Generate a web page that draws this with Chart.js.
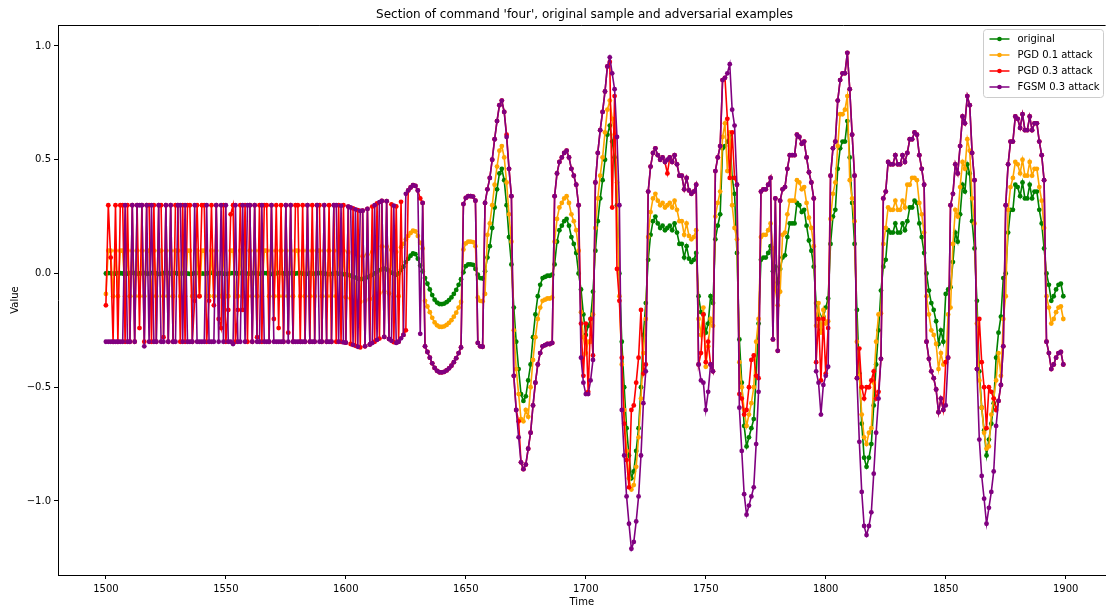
<!DOCTYPE html>
<html>
<head>
<meta charset="utf-8">
<script src="https://cdn.jsdelivr.net/npm/chart.js@4.4.1/dist/chart.umd.min.js"></script>
<style>
  html, body { margin: 0; padding: 0; background: #fff; }
  #wrap { width: 1108px; height: 608px; }
</style>
</head>
<body>
<div id="wrap"><canvas id="chart" width="1108" height="608"></canvas></div>
<script>
// samples start at t = 1500, one value per step
const startTime = 1500;

const original = [
  0, 0.002, 0.001, -0.001, 0, 0.002, 0.001, 0, -0.002, 0,
  0.001, 0.003, 0.001, -0.001, 0, 0.001, 0.002, 0, -0.001, 0.001,
  0.002, 0, -0.002, -0.001, 0.001, 0.002, 0.001, 0, 0.001, 0.002,
  0, -0.001, 0.001, 0.002, 0, -0.002, -0.001, 0.001, 0.002, 0.001,
  0, -0.001, 0, 0.002, 0.003, 0.001, -0.001, 0, 0.001, 0,
  -0.002, -0.001, 0.001, 0.002, 0.001, 0, 0.002, 0.003, 0.001, -0.001,
  0, 0.001, 0.002, 0, -0.001, 0.001, 0.002, 0.001, 0, -0.002,
  -0.001, 0.001, 0.003, 0.002, 0, -0.001, 0, 0.002, 0.001, 0,
  0.001, 0.002, 0, -0.002, -0.001, 0.001, 0, -0.001, 0.001, 0.002,
  0.001, 0, -0.002, -0.003, -0.002, 0, 0.001, -0.001, -0.002, -0.003,
  -0.004, -0.006, -0.01, -0.014, -0.018, -0.022, -0.025, -0.024, -0.02, -0.016,
  -0.012, -0.006, 0, 0.008, 0.014, 0.019, 0.021, 0.018, 0.012, 0.004,
  -0.002, -0.005, 0, 0.015, 0.03, 0.05, 0.065, 0.078, 0.088, 0.085,
  0.065, 0.035, 0.01, -0.02, -0.045, -0.07, -0.095, -0.115, -0.128, -0.134,
  -0.135, -0.132, -0.126, -0.117, -0.105, -0.09, -0.072, -0.05, -0.025, 0.005,
  0.032, 0.04, 0.04, 0.038, 0.02, -0.005, -0.02, -0.022, 0.01, 0.07,
  0.12, 0.2, 0.29, 0.37, 0.44, 0.46, 0.41, 0.3, 0.16, 0.04,
  -0.15, -0.3, -0.42, -0.53, -0.56, -0.54, -0.47, -0.4, -0.28, -0.18,
  -0.1, -0.05, -0.02, -0.015, -0.01, -0.01, -0.005, 0.04, 0.14, 0.19,
  0.21, 0.23, 0.24, 0.21, 0.16, 0.13, 0.09, 0, -0.07, -0.18,
  -0.27, -0.23, -0.2, -0.08, 0.1, 0.23, 0.33, 0.41, 0.5, 0.61,
  0.65, 0.58, 0.51, 0.3, 0, -0.3, -0.5, -0.68, -0.8, -0.9,
  -0.87, -0.78, -0.68, -0.5, -0.27, -0.13, 0.06, 0.17, 0.23, 0.25,
  0.22, 0.2, 0.21, 0.19, 0.2, 0.21, 0.19, 0.22, 0.18, 0.13,
  0.13, 0.07, 0.12, 0.065, 0.05, 0.06, 0.09, -0.1, -0.17, -0.18,
  -0.26, -0.22, -0.1, -0.13, 0.15, 0.21, 0.26, 0.55, 0.56, 0.58,
  0.61, 0.42, 0.35, 0.09, -0.29, -0.48, -0.67, -0.76, -0.72, -0.68,
  -0.64, -0.45, -0.22, 0.06, 0.07, 0.07, 0.09, 0.12, 0.01, 0.03,
  -0.04, 0.02, 0.07, 0.08, 0.16, 0.22, 0.22, 0.22, 0.31, 0.3,
  0.27, 0.28, 0.21, 0.145, 0.1, 0.03, -0.13, -0.18, -0.25, -0.19,
  -0.15, -0.11, 0.13, 0.25, 0.28, 0.46, 0.55, 0.58, 0.58, 0.67,
  0.51, 0.31, 0.13, -0.16, -0.44, -0.66, -0.81, -0.85, -0.81, -0.75,
  -0.58, -0.4, -0.25, -0.075, 0.03, 0.06, 0.19, 0.18, 0.18, 0.22,
  0.18, 0.18, 0.22, 0.19, 0.23, 0.29, 0.29, 0.32, 0.31, 0.22,
  0.16, 0.09, 0, -0.075, -0.13, -0.16, -0.21, -0.31, -0.25, -0.3,
  -0.09, -0.07, -0.06, 0.05, 0.18, 0.14, 0.26, 0.39, 0.36, 0.48,
  0.44, 0.23, 0.11, -0.12, -0.43, -0.59, -0.69, -0.8, -0.73, -0.66,
  -0.57, -0.37, -0.26, -0.19, -0.02, 0, 0.18, 0.28, 0.28, 0.39,
  0.38, 0.34, 0.4, 0.33, 0.33, 0.39, 0.33, 0.36, 0.36, 0.28,
  0.22, 0.11, 0, -0.05, -0.12, -0.1, -0.07, -0.05, -0.045, -0.1
];

const pgd01 = [
  -0.09, 0.1, 0.1, -0.1, 0.1, -0.1, 0.1, 0.1, -0.1, 0.1,
  -0.1, 0.1, -0.1, 0.1, -0.1, 0.1, -0.1, 0.1, 0.1, -0.1,
  0.1, -0.1, 0.1, 0.1, -0.1, 0.1, -0.1, 0.1, -0.1, 0.1,
  0.1, -0.1, 0.1, -0.1, 0.1, 0.1, -0.1, -0.1, 0.1, -0.1,
  0.1, 0.1, -0.1, -0.1, 0.1, -0.1, 0.1, -0.1, -0.1, 0.1,
  -0.1, -0.1, 0.1, 0.1, -0.1, -0.1, 0.1, -0.1, 0.1, -0.1,
  0.1, -0.1, 0.1, -0.1, 0.1, -0.1, 0.1, 0.1, -0.1, 0.1,
  -0.1, 0.1, -0.1, 0.1, -0.1, 0.1, -0.1, 0.1, -0.1, 0.1,
  0.1, -0.1, 0.1, -0.1, 0.1, -0.1, 0.1, -0.1, 0.1, 0.1,
  -0.1, 0.1, -0.1, 0.1, -0.1, 0.1, -0.1, 0.1, -0.1, 0.1,
  -0.104, 0.094, -0.11, 0.086, -0.118, 0.078, -0.125, 0.076, -0.12, 0.084,
  -0.112, 0.094, -0.1, 0.108, -0.086, 0.119, -0.079, 0.118, -0.088, 0.104,
  -0.102, 0.095, -0.1, 0.115, 0.13, 0.15, 0.165, 0.178, 0.188, 0.185,
  0.165, 0.135, 0.11, -0.12, -0.145, -0.17, -0.195, -0.215, -0.228, -0.234,
  -0.235, -0.232, -0.226, -0.217, -0.205, -0.19, -0.172, -0.15, -0.125, 0.105,
  0.132, 0.14, 0.14, 0.138, 0.12, -0.105, -0.12, -0.122, -0.09, 0.17,
  0.22, 0.3, 0.39, 0.47, 0.54, 0.56, 0.51, 0.4, 0.26, 0.14,
  -0.25, -0.42, -0.53, -0.64, -0.65, -0.6, -0.63, -0.5, -0.38, -0.28,
  -0.2, -0.15, -0.12, -0.115, -0.11, -0.11, -0.105, 0.14, 0.24, 0.29,
  0.31, 0.33, 0.34, 0.31, 0.26, 0.23, 0.19, 0.1, -0.17, -0.28,
  -0.35, -0.3, -0.3, -0.18, 0.2, 0.33, 0.43, 0.51, 0.62, 0.72,
  0.76, 0.68, 0.61, 0.4, -0.1, -0.4, -0.6, -0.78, -0.9, -0.95,
  -0.93, -0.85, -0.72, -0.55, -0.35, -0.2, 0.16, 0.27, 0.33, 0.35,
  0.32, 0.3, 0.31, 0.29, 0.3, 0.31, 0.29, 0.32, 0.28, 0.23,
  0.23, 0.17, 0.22, 0.165, 0.15, 0.16, 0.19, -0.2, -0.27, -0.15,
  -0.41, -0.32, -0.2, -0.23, 0.25, 0.31, 0.36, 0.6, 0.66, 0.45,
  0.62, 0.3, 0.2, 0.15, -0.39, -0.5, -0.6, -0.67, -0.62, -0.57,
  -0.5, -0.3, -0.2, 0.16, 0.17, 0.17, 0.19, 0.22, 0.11, -0.07,
  -0.14, -0.08, 0.17, 0.18, 0.26, 0.32, 0.32, 0.32, 0.41, 0.4,
  0.37, 0.38, 0.31, 0.245, 0.2, 0.12, -0.23, -0.13, -0.26, -0.16,
  -0.22, -0.21, 0.24, 0.35, 0.4, 0.56, 0.7, 0.7, 0.72, 0.78,
  0.41, 0.33, 0.23, -0.3, -0.45, -0.62, -0.72, -0.75, -0.7, -0.68,
  -0.48, -0.3, -0.18, -0.175, 0.13, 0.2, 0.29, 0.28, 0.28, 0.32,
  0.28, 0.28, 0.32, 0.29, 0.39, 0.39, 0.42, 0.42, 0.41, 0.31,
  0.26, 0.18, -0.1, -0.18, -0.25, -0.27, -0.31, -0.42, -0.35, -0.4,
  -0.39, -0.18, -0.15, 0.13, 0.28, 0.25, 0.38, 0.49, 0.46, 0.59,
  0.54, 0.33, 0.22, -0.22, -0.47, -0.59, -0.7, -0.77, -0.76, -0.62,
  -0.55, -0.47, -0.35, -0.45, -0.2, -0.1, 0.28, 0.38, 0.42, 0.49,
  0.48, 0.44, 0.5, 0.43, 0.43, 0.49, 0.43, 0.46, 0.46, 0.38,
  0.32, 0.2, -0.1, -0.15, -0.22, -0.2, -0.17, -0.15, -0.145, -0.2
];

const pgd03 = [
  -0.14, 0.3, 0.07, -0.3, 0.3, -0.3, 0.3, 0.3, -0.3, 0.3,
  -0.3, 0.3, -0.3, 0.3, -0.24, 0.3, -0.3, 0.3, 0.3, -0.3,
  0.3, -0.3, 0.3, 0.3, -0.28, 0.3, -0.3, 0.3, -0.3, 0.3,
  0.3, -0.3, 0.3, -0.3, 0.3, 0.3, -0.3, -0.12, 0.3, -0.1,
  0.3, 0.3, -0.3, -0.12, 0.3, -0.14, 0.3, -0.2, -0.24, 0.3,
  -0.3, -0.16, 0.26, 0.3, -0.3, -0.16, 0.3, -0.16, 0.3, -0.3,
  0.3, -0.3, 0.3, -0.28, 0.3, -0.3, 0.3, 0.3, -0.3, 0.3,
  -0.2, 0.3, -0.24, 0.3, -0.3, 0.3, -0.26, 0.3, -0.3, 0.3,
  0.3, -0.3, 0.3, -0.3, 0.3, -0.3, 0.3, -0.3, 0.3, 0.3,
  -0.3, 0.3, -0.3, 0.3, -0.3, 0.3, -0.3, 0.3, -0.3, 0.3,
  -0.304, 0.294, -0.31, 0.286, -0.318, 0.278, -0.325, 0.276, -0.32, 0.284,
  -0.312, 0.294, -0.3, 0.308, -0.286, 0.319, -0.279, 0.318, -0.288, 0.304,
  -0.302, 0.295, -0.3, 0.315, -0.27, -0.25, 0.365, 0.378, 0.388, 0.385,
  0.365, 0.33, 0.31, -0.32, -0.345, -0.37, -0.395, -0.415, -0.428, -0.434,
  -0.435, -0.432, -0.426, -0.417, -0.405, -0.39, -0.372, -0.35, -0.325, 0.305,
  0.332, 0.34, 0.34, 0.338, 0.32, -0.305, -0.32, -0.322, 0.31, 0.37,
  0.42, 0.5, 0.59, 0.67, 0.74, 0.76, 0.71, 0.61, 0.46, 0.34,
  -0.45, -0.6, -0.65, -0.83, -0.86, -0.84, -0.77, -0.7, -0.58, -0.48,
  -0.4, -0.35, -0.32, -0.315, -0.31, -0.31, -0.305, 0.34, 0.44, 0.49,
  0.51, 0.53, 0.54, 0.51, 0.46, 0.43, 0.39, 0.3, -0.22, -0.45,
  -0.22, -0.52, -0.2, -0.36, 0.4, 0.53, 0.63, 0.71, 0.8, 0.91,
  0.93, 0.29, 0.78, 0.02, -0.12, -0.37, -0.66, -0.82, -0.94, -0.6,
  -0.58, -0.48, -0.37, -0.16, -0.44, -0.4, 0.36, 0.47, 0.53, 0.55,
  0.52, 0.5, 0.51, 0.49, 0.44, 0.51, 0.49, 0.52, 0.48, 0.43,
  0.43, 0.37, 0.42, 0.365, 0.35, 0.36, 0.39, -0.4, -0.35, -0.18,
  -0.39, -0.3, -0.4, -0.43, 0.45, 0.51, 0.56, 0.85, 0.86, 0.68,
  0.42, 0.62, 0.42, 0.39, -0.53, -0.55, -0.62, -0.6, -0.5, -0.38,
  -0.36, -0.45, -0.46, 0.36, 0.37, 0.37, 0.39, 0.42, -0.29, 0.33,
  -0.34, 0.32, 0.37, 0.38, 0.46, 0.52, 0.52, 0.52, 0.61, 0.6,
  0.57, 0.58, 0.51, 0.445, 0.4, 0.33, -0.39, -0.2, -0.47, -0.2,
  -0.44, -0.24, 0.43, 0.55, 0.58, 0.76, 0.85, 0.88, 0.88, 0.97,
  0.81, 0.61, 0.43, -0.46, -0.33, -0.5, -0.55, -0.5, -0.5, -0.47,
  -0.43, -0.55, -0.52, -0.375, 0.33, 0.36, 0.49, 0.48, 0.48, 0.52,
  0.48, 0.48, 0.52, 0.49, 0.53, 0.59, 0.59, 0.62, 0.61, 0.52,
  0.46, 0.39, -0.3, -0.375, -0.43, -0.46, -0.51, -0.61, -0.55, -0.6,
  -0.39, -0.37, 0.3, 0.35, 0.48, 0.44, 0.56, 0.69, 0.66, 0.78,
  0.74, 0.53, 0.41, -0.42, -0.2, -0.39, -0.5, -0.68, -0.5, -0.52,
  -0.55, -0.6, -0.56, -0.49, -0.32, 0.3, 0.48, 0.58, 0.58, 0.69,
  0.68, 0.64, 0.7, 0.63, 0.63, 0.69, 0.63, 0.66, 0.66, 0.58,
  0.52, 0.41, -0.3, -0.35, -0.42, -0.4, -0.37, -0.35, -0.345, -0.4
];

const fgsm03 = [
  -0.3, -0.3, -0.3, -0.3, -0.3, -0.3, -0.3, -0.3, 0.3, -0.3,
  -0.3, 0.3, -0.3, 0.3, 0.3, 0.3, -0.32, 0.3, -0.3, 0.3,
  -0.3, -0.3, 0.3, -0.3, -0.3, 0.3, -0.3, 0.3, -0.3, -0.3,
  0.3, 0.3, -0.3, 0.3, -0.3, -0.3, -0.3, 0.3, -0.3, -0.3,
  -0.3, -0.3, 0.3, -0.3, -0.3, -0.3, 0.3, -0.3, 0.3, -0.3,
  0.3, -0.3, -0.3, -0.31, 0.3, -0.3, -0.3, 0.3, -0.3, 0.3,
  0.3, -0.3, 0.3, -0.3, -0.3, 0.3, -0.3, -0.3, -0.3, 0.3,
  -0.3, -0.3, -0.3, -0.3, -0.3, 0.3, -0.3, 0.3, -0.3, -0.3,
  -0.3, -0.3, -0.3, -0.3, 0.3, -0.3, -0.3, -0.3, 0.3, -0.3,
  -0.3, 0.3, -0.3, -0.3, -0.3, 0.3, 0.3, -0.3, 0.298, -0.303,
  -0.304, 0.294, 0.29, -0.314, 0.282, -0.322, 0.275, 0.276, -0.32, 0.284,
  -0.312, -0.306, 0.3, -0.292, 0.314, 0.319, -0.279, 0.318, -0.288, -0.296,
  0.298, -0.305, -0.3, -0.285, -0.27, 0.35, 0.365, 0.378, 0.388, 0.385,
  0.365, -0.265, 0.31, -0.32, -0.345, -0.37, -0.395, -0.415, -0.428, -0.434,
  -0.435, -0.432, -0.426, -0.417, -0.405, -0.39, -0.372, -0.35, -0.325, 0.305,
  0.332, 0.34, 0.34, 0.338, 0.32, -0.305, -0.32, -0.322, 0.31, 0.37,
  0.42, 0.5, 0.59, 0.67, 0.74, 0.76, 0.71, 0.6, 0.46, 0.34,
  -0.45, -0.6, -0.72, -0.83, -0.86, -0.84, -0.77, -0.7, -0.58, -0.48,
  -0.4, -0.35, -0.32, -0.315, -0.31, -0.31, -0.305, 0.34, 0.44, 0.49,
  0.51, 0.53, 0.54, 0.51, 0.46, 0.43, 0.39, 0.3, -0.37, -0.48,
  -0.53, -0.53, -0.47, -0.38, 0.4, 0.53, 0.63, 0.71, 0.8, 0.91,
  0.95, 0.88, 0.81, 0.6, 0.3, -0.6, -0.8, -0.98, -1.1, -1.21,
  -1.18, -1.09, -0.98, -0.8, -0.57, -0.43, 0.36, 0.47, 0.53, 0.55,
  0.52, 0.5, 0.51, 0.49, 0.5, 0.51, 0.49, 0.52, 0.48, 0.43,
  0.43, 0.37, 0.42, 0.365, 0.35, 0.36, 0.39, -0.4, -0.47, -0.48,
  -0.6, -0.52, -0.4, -0.43, 0.45, 0.51, 0.56, 0.85, 0.86, 0.88,
  0.92, 0.72, 0.65, 0.39, -0.59, -0.78, -0.97, -1.06, -1.02, -0.98,
  -0.94, -0.75, -0.52, 0.36, 0.37, 0.37, 0.39, 0.42, -0.29, 0.33,
  -0.34, 0.32, 0.37, 0.38, 0.46, 0.52, 0.52, 0.52, 0.61, 0.6,
  0.57, 0.58, 0.51, 0.445, 0.4, 0.33, -0.43, -0.48, -0.62, -0.49,
  -0.45, -0.41, 0.43, 0.55, 0.58, 0.76, 0.85, 0.88, 0.88, 0.97,
  0.81, 0.61, 0.43, -0.46, -0.74, -0.96, -1.11, -1.15, -1.11, -1.05,
  -0.88, -0.7, -0.55, -0.375, 0.33, 0.36, 0.49, 0.48, 0.48, 0.52,
  0.48, 0.48, 0.52, 0.49, 0.53, 0.59, 0.59, 0.62, 0.61, 0.52,
  0.46, 0.39, -0.3, -0.375, -0.43, -0.46, -0.51, -0.61, -0.55, -0.6,
  -0.58, -0.37, 0.3, 0.35, 0.48, 0.44, 0.56, 0.69, 0.66, 0.78,
  0.74, 0.53, 0.41, -0.42, -0.73, -0.89, -0.99, -1.1, -1.03, -0.96,
  -0.87, -0.67, -0.56, -0.49, -0.32, 0.3, 0.48, 0.58, 0.58, 0.69,
  0.68, 0.64, 0.7, 0.63, 0.63, 0.69, 0.63, 0.66, 0.66, 0.58,
  0.52, 0.41, -0.3, -0.35, -0.42, -0.4, -0.37, -0.35, -0.345, -0.4
];

const seriesNames = ['original', 'PGD 0.1 attack', 'PGD 0.3 attack', 'FGSM 0.3 attack'];
const seriesColors = ['green', 'orange', 'red', 'purple'];
const seriesValues = [original, pgd01, pgd03, fgsm03];

const xTicks = [1500, 1550, 1600, 1650, 1700, 1750, 1800, 1850, 1900];
const yTicks = [-1.0, -0.5, 0.0, 0.5, 1.0];

const chartTitle = "Section of command 'four', original sample and adversarial examples";

// axes limits (x axis runs on past the right edge of the canvas)
const X_MIN = 1480.04, X_VISIBLE_MAX = 1916.63, X_AXIS_END = 1918.95;
const Y_MIN = -1.3253, Y_MAX = 1.0923;

const FONT = "'DejaVu Sans', sans-serif";
Chart.defaults.font.family = FONT;
Chart.defaults.color = '#000';

const fmtMinus = v => (v < 0 ? '\u2212' : '') + Math.abs(v).toFixed(1);

const framePlugin = {
  id: 'frame',
  afterDraw(chart) {
    const { ctx, chartArea: a, scales } = chart;
    ctx.save();
    // top spine
    ctx.strokeStyle = '#000';
    ctx.lineWidth = 1;
    ctx.beginPath();
    ctx.moveTo(a.left, a.top + 0.5);
    ctx.lineTo(a.right, a.top + 0.5);
    ctx.stroke();

    // title centred over the full axes width
    const cx = (scales.x.getPixelForValue(X_MIN) + scales.x.getPixelForValue(X_AXIS_END)) / 2;
    ctx.fillStyle = '#000';
    ctx.font = `12px ${FONT}`;
    ctx.textAlign = 'center';
    ctx.textBaseline = 'middle';
    ctx.fillText(chartTitle, cx, 15);

    // legend box, upper right
    ctx.font = `10px ${FONT}`;
    const textW = Math.max(...seriesNames.map(n => ctx.measureText(n).width));
    const rowH = 16, padL = 6, lineLen = 20, gap = 8, padR = 4;
    const w = padL + lineLen + gap + textW + padR;
    const h = rowH * seriesNames.length + 4;
    const right = a.right - 2, top = a.top + 4;
    const left = right - w;
    ctx.fillStyle = 'rgba(255,255,255,0.8)';
    ctx.strokeStyle = '#cccccc';
    ctx.beginPath();
    ctx.roundRect(Math.round(left) + 0.5, top + 0.5, Math.round(w), h, 3);
    ctx.fill();
    ctx.stroke();
    ctx.textAlign = 'left';
    seriesNames.forEach((name, i) => {
      const y = top + 10 + i * rowH;
      const x0 = left + padL;
      ctx.strokeStyle = seriesColors[i];
      ctx.lineWidth = 1.5;
      ctx.beginPath();
      ctx.moveTo(x0, y);
      ctx.lineTo(x0 + lineLen, y);
      ctx.stroke();
      ctx.fillStyle = seriesColors[i];
      ctx.beginPath();
      ctx.arc(x0 + lineLen / 2, y, 2.3, 0, Math.PI * 2);
      ctx.fill();
      ctx.fillStyle = '#000';
      ctx.fillText(name, x0 + lineLen + gap, y + 0.5);
    });
    ctx.restore();
  }
};

const datasets = seriesValues.map((vals, i) => ({
  label: seriesNames[i],
  data: vals.map((v, k) => ({ x: startTime + k, y: v })),
  borderColor: seriesColors[i],
  backgroundColor: seriesColors[i],
  pointBackgroundColor: seriesColors[i],
  borderWidth: 1.6,
  pointRadius: 2.4,
  pointBorderWidth: 0,
  pointHoverRadius: 0,
  tension: 0,
  fill: false,
  order: seriesValues.length - 1 - i
}));

new Chart(document.getElementById('chart').getContext('2d'), {
  type: 'line',
  data: { datasets },
  plugins: [framePlugin],
  options: {
    responsive: false,
    animation: false,
    events: [],
    layout: { padding: { top: 25, left: 0, right: 0, bottom: 0 } },
    plugins: { legend: { display: false }, tooltip: { enabled: false }, title: { display: false } },
    scales: {
      x: {
        type: 'linear',
        min: X_MIN,
        max: X_VISIBLE_MAX,
        afterBuildTicks: axis => { axis.ticks = xTicks.map(v => ({ value: v })); },
        afterFit: axis => { axis.height = 33; },
        ticks: { callback: v => String(v), font: { size: 10 }, color: '#000', padding: 4, maxRotation: 0, autoSkip: false },
        grid: { display: true, drawOnChartArea: false, drawTicks: true, tickLength: 4, tickColor: '#000', tickWidth: 1 },
        border: { display: true, color: '#000', width: 1 },
        title: { display: true, text: 'Time', font: { size: 10 }, color: '#000', padding: { top: 0, bottom: 0 } }
      },
      y: {
        type: 'linear',
        min: Y_MIN,
        max: Y_MAX,
        afterBuildTicks: axis => { axis.ticks = yTicks.map(v => ({ value: v })); },
        afterFit: axis => { axis.width = 58; },
        ticks: { callback: v => fmtMinus(v), font: { size: 10 }, color: '#000', padding: 3 },
        grid: { display: true, drawOnChartArea: false, drawTicks: true, tickLength: 4, tickColor: '#000', tickWidth: 1 },
        border: { display: true, color: '#000', width: 1 },
        title: { display: true, text: 'Value', font: { size: 10 }, color: '#000', padding: { top: 9, bottom: 0 } }
      }
    }
  }
});
</script>
</body>
</html>
